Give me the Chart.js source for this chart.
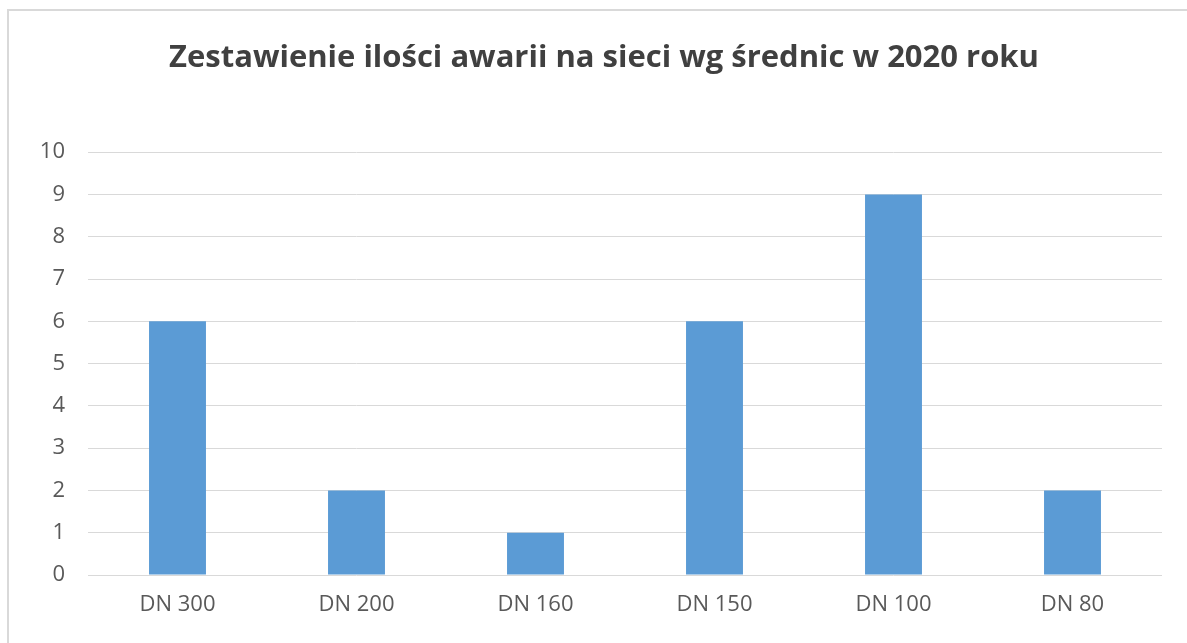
<!DOCTYPE html>
<html>
<head>
<meta charset="utf-8">
<script src="https://cdn.jsdelivr.net/npm/chart.js@4"></script>
<style>
  html, body { margin: 0; padding: 0; background: #fff; overflow: hidden; }
  #box {
    position: absolute; left: 7px; top: 9px;
    width: 1200px; height: 650px;
    border: 2px solid #d9d9d9; background: #fff;
  }
  #wrap { position: absolute; left: 0; top: 0; width: 1180px; height: 640px; }
</style>
</head>
<body>
<div id="box"><div id="wrap"><canvas id="awarie"></canvas></div></div>
<script>
// data
const categories = ['DN 300', 'DN 200', 'DN 160', 'DN 150', 'DN 100', 'DN 80'];
const failures = [6, 2, 1, 6, 9, 2];
const yTicks = [0, 1, 2, 3, 4, 5, 6, 7, 8, 9, 10];
const chartTitle = 'Zestawienie ilości awarii na sieci wg średnic w 2020 roku';

const ctx = document.getElementById('awarie');

// y labels are clipped to the scale box; open it up to the canvas edge
const unclipY = {
    id: 'unclipY',
    afterLayout(chart) {
        chart.scales.y.left = 0;
    }
};

new Chart(ctx, {
    type: 'bar',
    data: {
        labels: categories,
        datasets: [{
            label: 'Awarie',
            data: failures,
            backgroundColor: '#5B9BD5',
            borderWidth: 0,
            categoryPercentage: 1,
            barPercentage: 0.318
        }]
    },
    options: {
        responsive: true,
        maintainAspectRatio: false,
        animation: false,
        // left padding shifts the title centre; y axis width compensates
        layout: { padding: { top: 29, right: 27, left: 37, bottom: 0 } },
        plugins: {
            legend: { display: false },
            tooltip: { enabled: false },
            title: {
                display: true,
                text: chartTitle,
                color: '#404040',
                font: { family: 'Open Sans', size: 31, weight: 'bold' },
                padding: { top: 0, bottom: 75 }
            }
        },
        scales: {
            x: {
                grid: { display: false, drawTicks: false },
                border: { display: false },
                ticks: {
                    color: '#595959',
                    font: { family: 'Open Sans', size: 22 },
                    padding: 17
                },
                afterFit: (scale) => { scale.height = 76; }
            },
            y: {
                min: 0,
                max: 10,
                afterBuildTicks: (scale) => {
                    scale.ticks = yTicks.map(v => ({ value: v }));
                },
                grid: { color: '#d9d9d9', lineWidth: 1, drawTicks: false },
                border: { display: false },
                ticks: {
                    color: '#595959',
                    font: { family: 'Open Sans', size: 22 },
                    padding: 23
                },
                afterFit: (scale) => { scale.width = 42; }
            }
        }
    },
    plugins: [unclipY]
});
</script>
</body>
</html>
